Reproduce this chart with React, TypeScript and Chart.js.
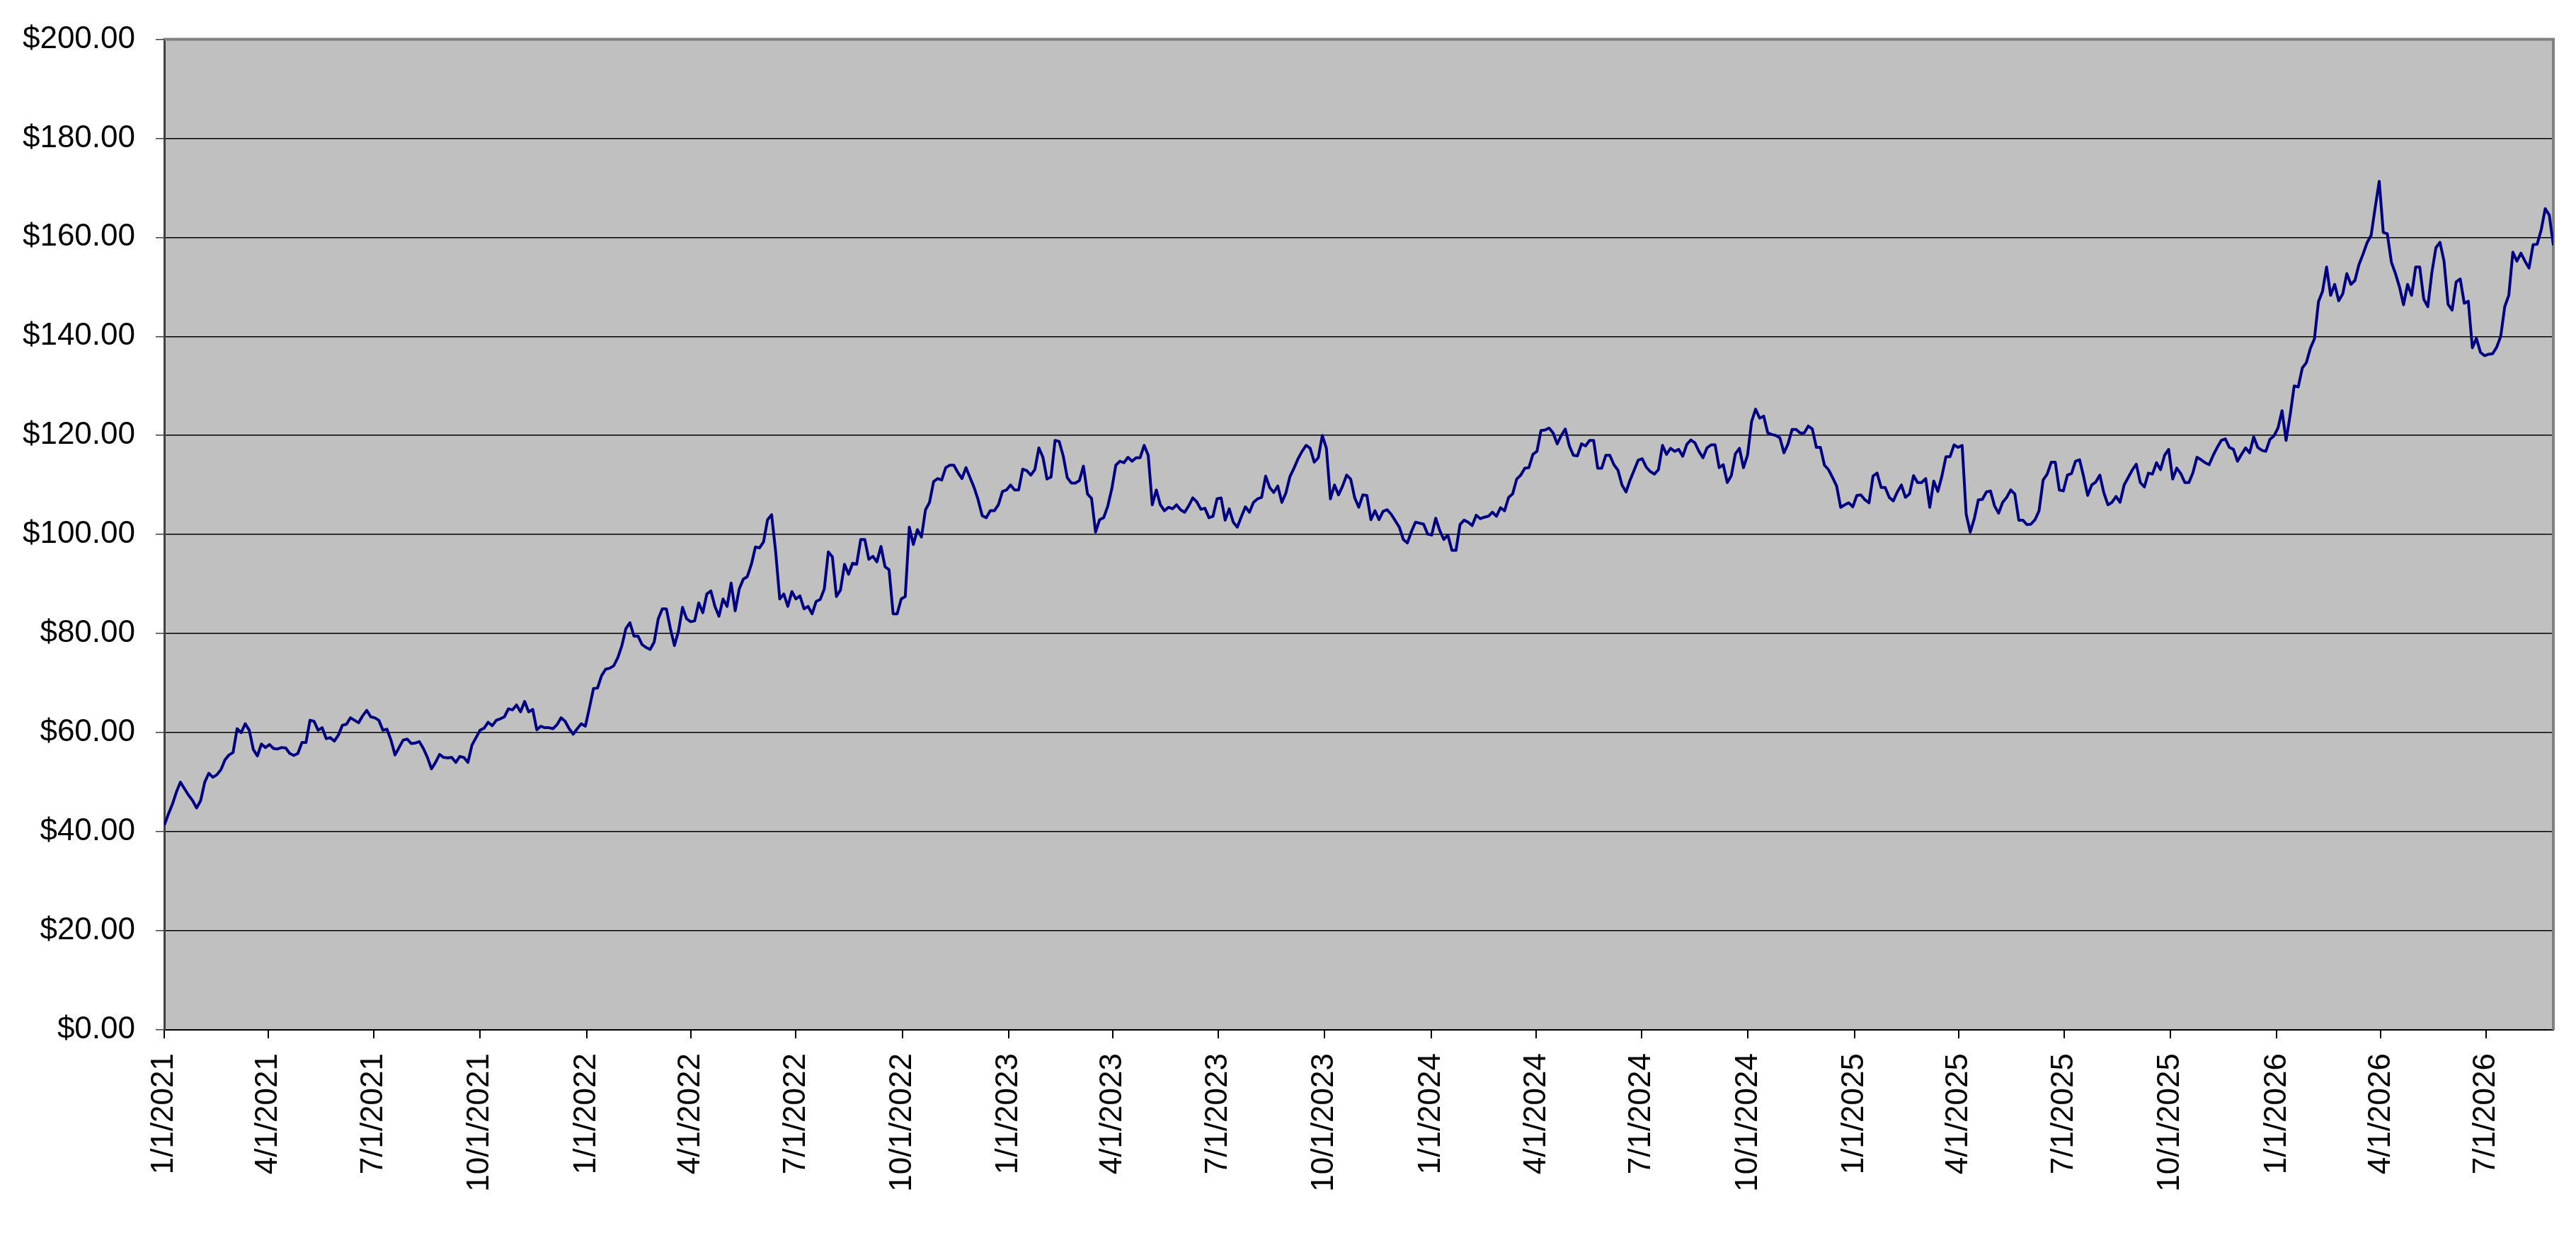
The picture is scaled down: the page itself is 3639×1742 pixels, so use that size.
import { useEffect, useRef } from 'react';
import { Chart, registerables } from 'chart.js';

Chart.register(...registerables);

// closing values, one point every 3.5 days from 1/1/2021, one array per year
const v2021 = [
  41.3, 43.5, 45.5, 48, 50, 48.7, 47.4, 46.3, 44.8, 46.3,
  50, 51.8, 51, 51.5, 52.5, 54.5, 55.5, 56, 60.8, 60,
  61.8, 60.5, 56.6, 55.3, 57.7, 57, 57.6, 56.8, 56.7, 57,
  56.9, 55.8, 55.4, 55.8, 58, 58, 62.5, 62.3, 60.5, 61,
  58.8, 59, 58.3, 59.5, 61.5, 61.7, 63, 62.5, 62, 63.4,
  64.5, 63.2, 63, 62.5, 60.5, 60.7, 58.5, 55.5, 57, 58.5,
  58.7, 57.8, 57.9, 58.2, 56.8, 55, 52.7, 54, 55.6, 55,
  54.9, 55, 54, 55.2, 55, 54, 57.5, 59, 60.5, 60.9,
  62.1, 61.4, 62.5, 62.8, 63.2, 64.8, 64.6, 65.6, 64.2, 66.3,
  64.2, 64.7, 60.6, 61.3, 61, 61, 60.8, 61.6, 63, 62.3,
  60.8, 59.7, 60.8, 61.8, 61.3, 65,
];
const v2022 = [
  68.9, 69, 71.5, 72.8, 73, 73.5, 75.1, 77.5, 81, 82.2,
  79.5, 79.5, 77.8, 77.2, 76.8, 78.3, 83, 85, 85, 81,
  77.6, 80.5, 85.3, 83, 82.4, 82.6, 86.2, 84.2, 88, 88.6,
  85.5, 83.5, 87, 85.5, 90.2, 84.6, 89, 91, 91.5, 94,
  97.5, 97.3, 98.5, 103, 104, 96.5, 87, 88, 85.5, 88.5,
  87, 87.6, 85, 85.5, 84, 86.5, 86.9, 89, 96.5, 95.5,
  87.5, 88.8, 94, 92, 94.2, 94, 99, 99, 95, 95.6,
  94.5, 97.6, 93.5, 92.9, 84, 84, 87, 87.5, 101.5, 98,
  101, 99.5, 105, 106.5, 110.7, 111.3, 111, 113.5, 114, 114,
  112.5, 111.3, 113.5, 111.5, 109.5, 107, 103.8, 103.4, 104.8, 104.8,
  106, 108.7, 109, 110,
];
const v2023 = [
  109, 109, 113.2, 112.9, 112, 113.1, 117.5, 115.6, 111.2, 111.6,
  119, 118.8, 115.9, 111.5, 110.4, 110.4, 110.9, 113.8, 108.2, 107.3,
  100.5, 103, 103.4, 105.7, 109.2, 114, 114.8, 114.5, 115.6, 114.8,
  115.5, 115.5, 118, 116, 106, 109, 106, 104.8, 105.5, 105.2,
  106, 105, 104.5, 105.8, 107.4, 106.6, 105.1, 105.3, 103.4, 103.7,
  107.2, 107.4, 102.9, 105.2, 102.5, 101.5, 103.6, 105.6, 104.5, 106.5,
  107.2, 107.5, 111.8, 109.5, 108.5, 109.8, 106.5, 108.4, 111.7, 113.4,
  115.3, 116.8, 118, 117.4, 114.6, 115.5, 120, 117.4, 107.2, 110,
  108, 109.8, 112, 111.2, 107.4, 105.5, 108, 107.9, 103, 104.8,
  103, 104.7, 105, 104.1, 102.8, 101.5, 99, 98.3, 100.6, 102.5,
  102.3, 102.1, 100.1, 99.9,
];
const v2024 = [
  103.3, 100.8, 99, 99.9, 96.8, 96.8, 102, 102.9, 102.5, 101.8,
  103.9, 103.2, 103.5, 103.7, 104.5, 103.7, 105.4, 104.8, 107.5, 108.2,
  111.2, 112, 113.4, 113.5, 116.2, 116.8, 121, 121.1, 121.5, 120.5,
  118.3, 120, 121.3, 117.9, 116, 115.9, 118.3, 117.9, 119, 119,
  113.4, 113.4, 116, 116, 114.1, 113, 110, 108.6, 111, 113,
  115, 115.3, 113.6, 112.7, 112.2, 113.1, 118, 116.2, 117.4, 116.8,
  117.2, 115.8, 118.2, 119.1, 118.5, 116.8, 115.5, 117.5, 118.1, 118.1,
  113.5, 114.1, 110.5, 111.9, 116.3, 117.4, 113.5, 116, 122.8, 125.3,
  123.5, 123.9, 120.5, 120.2, 120, 119.5, 116.5, 118.3, 121.2, 121.2,
  120.5, 120.5, 121.9, 121.3, 117.6, 117.6, 114, 113.1, 111.5, 109.8,
  105.5, 106, 106.4, 105.6,
];
const v2025 = [
  107.9, 108, 107, 106.4, 111.8, 112.4, 109.5, 109.5, 107.5, 106.8,
  108.6, 110, 107.5, 108.2, 111.9, 110.5, 110.5, 111.3, 105.5, 110.8,
  108.7, 111.8, 115.7, 115.7, 118.1, 117.6, 118, 104.1, 100.5, 103.2,
  107, 107.1, 108.6, 108.8, 105.8, 104.3, 106.5, 107.5, 109, 108.2,
  102.9, 102.9, 102, 102.1, 103, 104.8, 111, 112.2, 114.6, 114.6,
  109, 108.8, 112, 112.3, 114.8, 115.1, 111.7, 107.9, 110, 110.6,
  112, 108.4, 106, 106.5, 107.7, 106.5, 110, 111.5, 113, 114.2,
  110.5, 109.6, 112.4, 112.2, 114.5, 113.1, 116, 117.2, 111.2, 113.4,
  112.3, 110.5, 110.5, 112.5, 115.6, 115.1, 114.5, 114.1, 116, 117.6,
  119, 119.3, 117.6, 117.2, 114.8, 116.2, 117.5, 116.5, 119.7, 117.6,
  117, 116.8, 119.2, 119.9,
];
const v2026 = [
  121.5, 125, 119, 124.1, 130, 129.8, 133.6, 134.7, 137.6, 139.5,
  147, 149.1, 154, 148.3, 150.5, 147.2, 148.6, 152.7, 150.5, 151.3,
  154.5, 156.6, 158.9, 160.4, 166, 171.3, 161, 160.7, 155, 152.7,
  150, 146.4, 150.5, 148.3, 154, 154, 147.5, 146, 152.9, 157.9,
  159, 155.2, 146.5, 145.3, 151, 151.6, 146.7, 147.1, 137.7, 139.6,
  136.8, 136.1, 136.4, 136.5, 137.8, 140, 146, 148.3, 157, 155.2,
  156.8, 155.2, 153.8, 158.5, 158.6, 161.5, 165.8, 164.5, 158.4,
];

const tickLabels = [
  '1/1/2021', '4/1/2021', '7/1/2021', '10/1/2021',
  '1/1/2022', '4/1/2022', '7/1/2022', '10/1/2022',
  '1/1/2023', '4/1/2023', '7/1/2023', '10/1/2023',
  '1/1/2024', '4/1/2024', '7/1/2024', '10/1/2024',
  '1/1/2025', '4/1/2025', '7/1/2025', '10/1/2025',
  '1/1/2026', '4/1/2026', '7/1/2026',
];

const STEP_DAYS = 3.5;
const DAY = 86400000;
const START = Date.UTC(2021, 0, 1);

const toDay = (label: string) => {
  const [m, d, y] = label.split('/').map(Number);
  return Math.round((Date.UTC(y, m - 1, d) - START) / DAY);
};

const values = [...v2021, ...v2022, ...v2023, ...v2024, ...v2025, ...v2026];
const points = values.map((v, i) => ({ x: i * STEP_DAYS, y: v }));
const tickDays = tickLabels.map(toDay);

const FONT = { family: '"Liberation Sans", Arial, sans-serif', size: 44 };

const plotBackground = {
  id: 'plotBackground',
  beforeDraw(chart: Chart) {
    const { ctx, chartArea } = chart;
    ctx.save();
    ctx.fillStyle = '#c0c0c0';
    ctx.fillRect(chartArea.left, chartArea.top, chartArea.right - chartArea.left, chartArea.bottom - chartArea.top);
    ctx.restore();
  },
  beforeDatasetsDraw(chart: Chart) {
    const { ctx, chartArea } = chart;
    ctx.save();
    ctx.strokeStyle = '#808080';
    ctx.lineWidth = 4;
    ctx.beginPath();
    ctx.moveTo(chartArea.left, chartArea.top);
    ctx.lineTo(chartArea.right, chartArea.top);
    ctx.lineTo(chartArea.right, chartArea.bottom);
    ctx.stroke();
    ctx.restore();
  },
};

const PriceChart = () => {
  const canvasRef = useRef<HTMLCanvasElement | null>(null);
  const chartRef = useRef<Chart | null>(null);

  useEffect(() => {
    if (!canvasRef.current) return;
    if (chartRef.current) chartRef.current.destroy();

    chartRef.current = new Chart(canvasRef.current, {
      type: 'line',
      data: {
        datasets: [
          {
            data: points,
            borderColor: '#000080',
            borderWidth: 4,
            borderJoinStyle: 'round',
            pointRadius: 0,
            tension: 0,
            fill: false,
          },
        ],
      },
      options: {
        animation: false,
        responsive: true,
        maintainAspectRatio: false,
        layout: { padding: { left: 0, right: 32, top: 42, bottom: 0 } },
        plugins: {
          legend: { display: false },
          tooltip: { enabled: false },
        },
        scales: {
          x: {
            type: 'linear',
            min: 0,
            max: points[points.length - 1].x,
            afterBuildTicks: (scale: any) => {
              scale.ticks = tickDays.map((value) => ({ value }));
            },
            afterFit: (scale: any) => {
              scale.height = 287;
            },
            border: { display: true, color: '#000', width: 2 },
            grid: { drawOnChartArea: false, drawTicks: true, tickLength: 12, tickColor: '#000', lineWidth: 2 },
            ticks: {
              autoSkip: false,
              maxRotation: 90,
              minRotation: 90,
              padding: 21,
              color: '#000',
              font: FONT,
              callback: (value: any) => {
                const i = tickDays.indexOf(Number(value));
                return i >= 0 ? tickLabels[i] : '';
              },
            },
          },
          y: {
            min: 0,
            max: 200,
            afterFit: (scale: any) => {
              scale.width = 232;
            },
            border: { display: true, color: '#404040', width: 3 },
            grid: { color: '#000', lineWidth: 1.5, tickLength: 12, tickColor: '#404040' },
            ticks: {
              stepSize: 20,
              padding: 29,
              color: '#000',
              font: FONT,
              callback: (value: any) => '$' + Number(value).toFixed(2),
            },
          },
        },
      },
      plugins: [plotBackground],
    });

    return () => {
      if (chartRef.current) {
        chartRef.current.destroy();
        chartRef.current = null;
      }
    };
  }, []);

  return (
    <div style={{ position: 'fixed', left: 0, top: 0, width: 3639, height: 1742, background: '#fff' }}>
      <canvas ref={canvasRef} />
    </div>
  );
};

export default function App() {
  return <PriceChart />;
}
